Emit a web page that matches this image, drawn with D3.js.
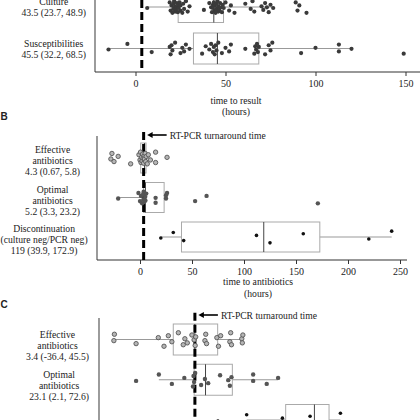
<!DOCTYPE html>
<html>
<head>
<meta charset="utf-8">
<script src="https://cdn.jsdelivr.net/npm/d3@7"></script>
<style>
  body { margin: 0; background: #fff; }
  #chart text { font-family: "Liberation Serif", "DejaVu Serif", "Times New Roman", serif; fill: #222; }
  #chart text.letter { font-family: "Liberation Sans", "DejaVu Sans", Arial, sans-serif; }
</style>
</head>
<body>
<svg id="chart" width="420" height="420"></svg>
<script>
// RT-PCR turnaround time (hours), shared by all panels
var turnaroundHours = 3.5;

// ---- Panel A: time to result ----
var panelARows = ["culture", "susceptibilities"];
var panelALabels = [["Culture", "43.5 (23.7, 48.9)"], ["Susceptibilities", "45.5 (32.2, 68.5)"]];
var panelAMedian = [43.5, 45.5];
var panelAQ1 = [23.7, 32.2];
var panelAQ3 = [48.9, 68.5];
var panelALow = [6.5, -15];
var panelAHigh = [77, 120];
var panelATicks = [0, 50, 100, 150];
var panelATitle = ["time to result", "(hours)"];
var cultureHours = [6.5, 19, 19.5, 20, 20.5, 21, 21, 21.5, 22, 22, 22.5, 23, 23, 23.5, 24, 24, 24.5, 25, 25, 26,
  26.5, 27, 28, 29, 30, 38, 41, 42, 42.5, 43, 43, 43.5, 44, 44, 44.5, 45, 45, 45.5, 46, 46, 46.5, 47, 47.5, 48,
  48.5, 49, 50, 52, 53, 55, 61, 64, 65, 66, 70, 71, 72, 73, 74, 75, 76.5, 89, 90, 91, 95];
var susceptibilityHours = [-15, -4.5, 9, 19, 19.5, 20, 20.5, 22, 25, 26, 27, 28, 30, 37, 39, 41, 42, 43, 43.5,
  44, 44.5, 45, 46, 48, 50, 52, 53, 61, 66, 66.5, 67, 67.5, 68, 68.5, 72, 74, 75, 76, 92, 100, 113, 113, 120, 149];

// ---- Panel B: time to antibiotics ----
var panelBRows = ["effective", "optimal", "discontinuation"];
var panelBLabels = [["Effective", "antibiotics", "4.3 (0.67, 5.8)"],
  ["Optimal", "antibiotics", "5.2 (3.3, 23.2)"],
  ["Discontinuation", "(culture neg/PCR neg)", "119 (39.9, 172.9)"]];
var panelBMedian = [4.3, 5.2, 119];
var panelBQ1 = [0.67, 3.3, 39.9];
var panelBQ3 = [5.8, 23.2, 172.9];
var panelBLow = [-1, -21, 20];
var panelBHigh = [10, 26, 242];
var panelBTicks = [0, 50, 100, 150, 200, 250];
var panelBTitle = ["time to antibiotics", "(hours)"];
var effectiveB = [-28, -27, -25, -21, -9, -1, 0, 0.5, 1, 1.5, 2, 2.5, 3, 3.5, 4, 4.3, 5, 5.5, 6, 7, 8, 10, 15, 15, 26];
var optimalB = [-21, -1.5, 0, 1, 2, 3, 3.3, 3.5, 4, 5, 5.2, 6, 15, 15, 25, 25, 26, 53, 64, 171];
var discontinuationB = [20, 32, 42, 112, 125, 157, 220, 242];

// ---- Panel C ----
var panelCRows = ["effective", "optimal", "discontinuation"];
var panelCLabels = [["Effective", "antibiotics", "3.4 (-36.4, 45.5)"],
  ["Optimal", "antibiotics", "23.1 (2.1, 72.6)"], []];
var panelCMedian = [3.4, 23.1, 224];
var panelCQ1 = [-36.4, 2.1, 171];
var panelCQ3 = [45.5, 72.6, 251];
var panelCLow = [-146, -63, 99];
var panelCHigh = [92, 157, 272];
var effectiveC = [-146, -145, -105, -64, -53.5, -45.5, -39, -27, -18, -15, -10.5, -2, 2, 4, 5, 22, 23.5, 25,
  44, 47, 51, 68, 69.5, 71, 90, 91, 92];
var optimalC = [-105, -63, -39, -16, 0, 1, 2, 4, 15, 22, 28, 50, 65, 68, 71, 111, 111, 136, 157];
var discontinuationC = [46, 99, 106, 165, 187, 216, 253, 272, 388];

var svg = d3.select("#chart");

// fixed vertical spread for overlapping points (not random)
var spread = [0.15, -0.7, 0.55, -0.25, 0.9, -0.5, 0.3, -0.9, 0.7, -0.1, 0.45, -0.6, 0.05, 0.8, -0.35];

var pointStyles = {
  dark:  { r: 2.1, fill: "#3a3a3a", stroke: "none", sw: 0 },
  ring:  { r: 2.2, fill: "#b5b5b5", stroke: "#555", sw: 0.9 },
  gray:  { r: 2.2, fill: "#555", stroke: "none", sw: 0 },
  black: { r: 1.8, fill: "#111", stroke: "none", sw: 0 }
};

function drawPanel(p) {
  var g = svg.append("g");
  var x = d3.scaleLinear().domain(p.domain).range(p.range);
  var y = d3.scalePoint().domain(p.rows).range(p.rowRange);
  var half = p.boxH / 2;

  // y axis line
  g.append("line")
    .attr("x1", p.axisX).attr("x2", p.axisX)
    .attr("y1", p.top).attr("y2", p.bottom)
    .attr("stroke", "#666").attr("stroke-width", 1.3);

  // x axis
  if (p.ticks) {
    g.append("line")
      .attr("x1", p.axisX).attr("x2", p.axisEnd)
      .attr("y1", p.bottom).attr("y2", p.bottom)
      .attr("stroke", "#333").attr("stroke-width", 1.1);
    var ax = g.append("g")
      .attr("transform", "translate(0," + p.bottom + ")")
      .call(d3.axisBottom(x).tickValues(p.ticks).tickSize(4).tickPadding(4).tickSizeOuter(0));
    ax.select(".domain").remove();
    ax.attr("font-family", null).attr("font-size", 10);
    ax.selectAll(".tick line").attr("stroke", "#333");
    ax.selectAll(".tick text").attr("fill", "#222");

    // axis title
    g.selectAll(".title").data(p.title).join("text")
      .attr("x", p.titleX)
      .attr("y", function(d, i) { return p.titleY + i * 11.5; })
      .attr("text-anchor", "middle")
      .attr("font-size", 9.7)
      .text(function(d) { return d; });
  }

  // whiskers
  p.rows.forEach(function(r, i) {
    var cy = y(r);
    g.append("line")
      .attr("x1", x(p.low[i])).attr("x2", x(p.q1[i]))
      .attr("y1", cy).attr("y2", cy)
      .attr("stroke", "#999").attr("stroke-width", 1);
    g.append("line")
      .attr("x1", x(p.q3[i])).attr("x2", x(p.high[i]))
      .attr("y1", cy).attr("y2", cy)
      .attr("stroke", "#999").attr("stroke-width", 1);
  });

  // boxes
  g.selectAll(".box").data(p.rows).join("rect")
    .attr("x", function(d, i) { return x(p.q1[i]); })
    .attr("width", function(d, i) { return x(p.q3[i]) - x(p.q1[i]); })
    .attr("y", function(d) { return y(d) - half; })
    .attr("height", p.boxH)
    .attr("fill", "none")
    .attr("stroke", "#aaa").attr("stroke-width", 1);

  // medians
  g.selectAll(".median").data(p.rows).join("line")
    .attr("x1", function(d, i) { return x(p.median[i]); })
    .attr("x2", function(d, i) { return x(p.median[i]); })
    .attr("y1", function(d) { return y(d) - half; })
    .attr("y2", function(d) { return y(d) + half; })
    .attr("stroke", "#444").attr("stroke-width", 1);

  // RT-PCR turnaround dashed line
  var tx = x(turnaroundHours);
  g.append("line")
    .attr("x1", tx).attr("x2", tx)
    .attr("y1", p.dashTop).attr("y2", p.dashBottom)
    .attr("stroke", "#000").attr("stroke-width", 3)
    .attr("stroke-dasharray", "8,4");

  if (p.arrowY != null) {
    var ay = p.arrowY;
    g.append("line")
      .attr("x1", tx + 7).attr("x2", tx + 23)
      .attr("y1", ay).attr("y2", ay)
      .attr("stroke", "#000").attr("stroke-width", 1.6);
    g.append("path")
      .attr("d", "M" + (tx + 3.5) + "," + ay + "L" + (tx + 9) + "," + (ay - 3) + "L" + (tx + 9) + "," + (ay + 3) + "Z")
      .attr("fill", "#000");
    g.append("text")
      .attr("x", tx + 26).attr("y", ay + 3.5)
      .attr("font-size", 9.6)
      .text("RT-PCR turnaround time");
  }

  // points
  p.rows.forEach(function(r, i) {
    var st = pointStyles[p.styles[i]];
    g.selectAll(".pt" + i).data(p.values[i]).join("circle")
      .attr("cx", function(d) { return x(d); })
      .attr("cy", function(d, j) { return y(r) + spread[j % spread.length] * p.jitter; })
      .attr("r", st.r)
      .attr("fill", st.fill)
      .attr("stroke", st.stroke)
      .attr("stroke-width", st.sw);
  });

  // row labels: lines centred within a right-aligned block
  p.rows.forEach(function(r, i) {
    var lines = p.labels[i];
    if (!lines.length) return;
    var texts = g.selectAll(".lab" + i).data(lines).join("text")
      .attr("font-size", 9.7)
      .attr("text-anchor", "middle")
      .attr("y", function(d, k) { return y(r) + p.labelOffset + (k - (lines.length - 1) / 2) * 11; })
      .text(function(d) { return d; });
    var maxW = d3.max(texts.nodes(), function(n) { return n.getComputedTextLength(); });
    texts.attr("x", Math.max(p.labelRight - maxW / 2, maxW / 2 + 0.5));
  });
}

drawPanel({
  rows: panelARows, labels: panelALabels, values: [cultureHours, susceptibilityHours],
  median: panelAMedian, q1: panelAQ1, q3: panelAQ3, low: panelALow, high: panelAHigh,
  styles: ["dark", "dark"], ticks: panelATicks, title: panelATitle,
  domain: [0, 150], range: [135.5, 405.5], rowRange: [7, 48.5], boxH: 31, jitter: 6.5,
  axisX: 95, top: 0, bottom: 72, axisEnd: 420, titleX: 236, titleY: 103.5,
  dashTop: 0, dashBottom: 68, arrowY: null, labelRight: 86, labelOffset: 3.5
});

drawPanel({
  rows: panelBRows, labels: panelBLabels, values: [effectiveB, optimalB, discontinuationB],
  median: panelBMedian, q1: panelBQ1, q3: panelBQ3, low: panelBLow, high: panelBHigh,
  styles: ["ring", "gray", "black"], ticks: panelBTicks, title: panelBTitle,
  domain: [0, 250], range: [140, 400], rowRange: [158, 237], boxH: 30, jitter: 6.5,
  axisX: 97, top: 136, bottom: 260, axisEnd: 407, titleX: 258, titleY: 285,
  dashTop: 132, dashBottom: 260, arrowY: 135, labelRight: 80, labelOffset: 6
});

drawPanel({
  rows: panelCRows, labels: panelCLabels, values: [effectiveC, optimalC, discontinuationC],
  median: panelCMedian, q1: panelCQ1, q3: panelCQ3, low: panelCLow, high: panelCHigh,
  styles: ["ring", "gray", "black"], ticks: null, title: [],
  domain: [0, 100], range: [193, 247.2], rowRange: [339.5, 420], boxH: 31, jitter: 7.5,
  axisX: 99, top: 318, bottom: 420, axisEnd: 420,
  dashTop: 312.7, dashBottom: 420, arrowY: 315, labelRight: 89, labelOffset: 9.5
});

// panel letters
svg.selectAll(".letter").data([["B", 120], ["C", 308]]).join("text")
  .attr("class", "letter")
  .attr("x", 0.5)
  .attr("y", function(d) { return d[1]; })
  .attr("font-size", 10)
  .attr("font-weight", "bold")
  .text(function(d) { return d[0]; });
</script>
</body>
</html>
